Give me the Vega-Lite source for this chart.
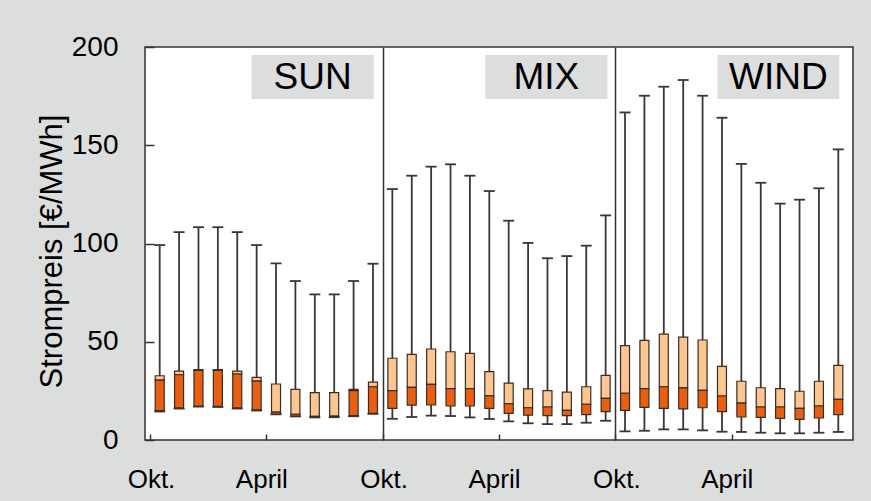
{
  "$schema": "https://vega.github.io/schema/vega-lite/v6.json",
  "autosize": "none",
  "width": 708,
  "height": 393,
  "padding": {"left": 145, "top": 47, "right": 18, "bottom": 61},
  "background": "#dcdddd",
  "config": {
    "view": {"fill": "white", "stroke": "#333333", "strokeWidth": 1.5},
    "font": "Liberation Sans",
    "axis": {"domain": false, "labelColor": "black", "titleColor": "black", "titleFontWeight": "normal", "tickColor": "#333333", "tickWidth": 1.5}
  },
  "data": {
    "values": [
      {"s": "SUN", "m": "Okt", "i": 0, "min": 14.5, "q1": 14.9, "med": 30.5, "q3": 32.7, "max": 99.2},
      {"s": "SUN", "m": "Nov", "i": 1, "min": 16.0, "q1": 16.4, "med": 33.2, "q3": 35.1, "max": 105.8},
      {"s": "SUN", "m": "Dez", "i": 2, "min": 17.0, "q1": 17.3, "med": 35.4, "q3": 35.8, "max": 108.3},
      {"s": "SUN", "m": "Jan", "i": 3, "min": 16.8, "q1": 17.1, "med": 35.4, "q3": 35.8, "max": 108.3},
      {"s": "SUN", "m": "Feb", "i": 4, "min": 16.0, "q1": 16.4, "med": 33.6, "q3": 35.1, "max": 105.8},
      {"s": "SUN", "m": "Mär", "i": 5, "min": 15.0, "q1": 15.3, "med": 30.0, "q3": 31.9, "max": 99.2},
      {"s": "SUN", "m": "Apr", "i": 6, "min": 13.0, "q1": 13.2, "med": 14.2, "q3": 28.5, "max": 89.9},
      {"s": "SUN", "m": "Mai", "i": 7, "min": 12.0, "q1": 12.2, "med": 13.1, "q3": 25.8, "max": 80.9},
      {"s": "SUN", "m": "Jun", "i": 8, "min": 11.5, "q1": 11.7, "med": 12.0, "q3": 24.1, "max": 74.1},
      {"s": "SUN", "m": "Jul", "i": 9, "min": 11.6, "q1": 11.9, "med": 12.1, "q3": 24.1, "max": 74.1},
      {"s": "SUN", "m": "Aug", "i": 10, "min": 12.1, "q1": 12.4, "med": 25.1, "q3": 25.8, "max": 80.9},
      {"s": "SUN", "m": "Sep", "i": 11, "min": 13.3, "q1": 13.6, "med": 27.1, "q3": 29.5, "max": 89.7},
      {"s": "MIX", "m": "Okt", "i": 12, "min": 10.8, "q1": 16.1, "med": 25.1, "q3": 41.6, "max": 127.7},
      {"s": "MIX", "m": "Nov", "i": 13, "min": 11.7, "q1": 17.7, "med": 26.8, "q3": 43.6, "max": 134.5},
      {"s": "MIX", "m": "Dez", "i": 14, "min": 12.4, "q1": 17.8, "med": 28.3, "q3": 46.3, "max": 139.1},
      {"s": "MIX", "m": "Jan", "i": 15, "min": 12.2, "q1": 17.3, "med": 26.1, "q3": 44.9, "max": 140.3},
      {"s": "MIX", "m": "Feb", "i": 16, "min": 11.5, "q1": 17.3, "med": 26.1, "q3": 44.1, "max": 134.5},
      {"s": "MIX", "m": "Mär", "i": 17, "min": 10.7, "q1": 16.1, "med": 22.5, "q3": 34.8, "max": 126.7},
      {"s": "MIX", "m": "Apr", "i": 18, "min": 9.5, "q1": 13.6, "med": 18.5, "q3": 28.9, "max": 111.6},
      {"s": "MIX", "m": "Mai", "i": 19, "min": 8.5, "q1": 12.7, "med": 16.4, "q3": 26.0, "max": 100.3},
      {"s": "MIX", "m": "Jun", "i": 20, "min": 8.1, "q1": 12.4, "med": 16.8, "q3": 25.1, "max": 92.5},
      {"s": "MIX", "m": "Jul", "i": 21, "min": 8.1, "q1": 12.4, "med": 15.1, "q3": 24.4, "max": 93.6},
      {"s": "MIX", "m": "Aug", "i": 22, "min": 8.8, "q1": 12.9, "med": 18.2, "q3": 27.1, "max": 98.9},
      {"s": "MIX", "m": "Sep", "i": 23, "min": 9.8, "q1": 14.4, "med": 21.2, "q3": 32.9, "max": 114.3},
      {"s": "WIND", "m": "Okt", "i": 24, "min": 4.4, "q1": 15.1, "med": 23.8, "q3": 48.0, "max": 166.7},
      {"s": "WIND", "m": "Nov", "i": 25, "min": 4.7, "q1": 16.6, "med": 26.1, "q3": 50.7, "max": 175.2},
      {"s": "WIND", "m": "Dez", "i": 26, "min": 5.4, "q1": 16.1, "med": 27.1, "q3": 53.9, "max": 179.8},
      {"s": "WIND", "m": "Jan", "i": 27, "min": 5.4, "q1": 15.8, "med": 26.5, "q3": 52.4, "max": 183.2},
      {"s": "WIND", "m": "Feb", "i": 28, "min": 4.9, "q1": 16.4, "med": 25.3, "q3": 50.9, "max": 175.2},
      {"s": "WIND", "m": "Mär", "i": 29, "min": 4.2, "q1": 14.4, "med": 22.4, "q3": 37.5, "max": 164.0},
      {"s": "WIND", "m": "Apr", "i": 30, "min": 4.1, "q1": 11.7, "med": 18.8, "q3": 29.9, "max": 140.5},
      {"s": "WIND", "m": "Mai", "i": 31, "min": 3.7, "q1": 11.5, "med": 16.8, "q3": 26.6, "max": 130.9},
      {"s": "WIND", "m": "Jun", "i": 32, "min": 3.4, "q1": 11.0, "med": 16.8, "q3": 26.1, "max": 120.3},
      {"s": "WIND", "m": "Jul", "i": 33, "min": 3.4, "q1": 10.5, "med": 16.1, "q3": 24.8, "max": 122.3},
      {"s": "WIND", "m": "Aug", "i": 34, "min": 3.7, "q1": 11.2, "med": 17.3, "q3": 29.9, "max": 128.1},
      {"s": "WIND", "m": "Sep", "i": 35, "min": 4.1, "q1": 12.9, "med": 20.7, "q3": 38.0, "max": 147.9}
    ]
  },
  "layer": [
    {
      "mark": {"type": "rule", "color": "#3d3535", "strokeWidth": 1.8},
      "encoding": {
        "x": {
          "field": "i", "type": "quantitative",
          "scale": {"domain": [-0.5, 35.5], "nice": false, "zero": false},
          "axis": {
            "title": null,
            "values": [-0.5, 5.5, 11.5, 17.5, 23.5, 29.5],
            "labelExpr": "(datum.value == 5.5 || datum.value == 17.5 || datum.value == 29.5) ? 'April' : 'Okt.'",
            "labelFontSize": 26,
            "labelFlush": false,
            "labelOverlap": false,
            "labelOffset": {"condition": {"test": "datum.value == 5.5 || datum.value == 17.5 || datum.value == 29.5", "value": -5}, "value": 1},
            "tickSize": -6,
            "labelPadding": 32,
            "grid": true,
            "gridColor": "#333333",
            "gridWidth": 1.5,
            "gridOpacity": {"condition": {"test": "datum.value == 11.5 || datum.value == 23.5", "value": 1}, "value": 0}
          }
        },
        "y": {"field": "min", "type": "quantitative", "scale": {"domain": [0, 200], "nice": false},
          "axis": {"title": "Strompreis [€/MWh]", "values": [0, 50, 100, 150, 200], "labelFontSize": 28, "titleFontSize": 31, "tickSize": -9, "labelPadding": 36, "titlePadding": 3, "titleY": 204, "grid": false}},
        "y2": {"field": "max"}
      }
    },
    {
      "mark": {"type": "tick", "orient": "horizontal", "color": "#3d3535", "size": 11, "thickness": 1.8, "opacity": 1},
      "encoding": {"x": {"field": "i", "type": "quantitative"}, "y": {"field": "max", "type": "quantitative"}}
    },
    {
      "mark": {"type": "tick", "orient": "horizontal", "color": "#3d3535", "size": 11, "thickness": 1.8, "opacity": 1},
      "encoding": {"x": {"field": "i", "type": "quantitative"}, "y": {"field": "min", "type": "quantitative"}}
    },
    {
      "mark": {"type": "bar", "width": 9, "fill": "#fcc690", "stroke": "#3a2c24", "strokeWidth": 1.2},
      "encoding": {"x": {"field": "i", "type": "quantitative"}, "y": {"field": "med", "type": "quantitative"}, "y2": {"field": "q3"}}
    },
    {
      "mark": {"type": "bar", "width": 9, "fill": "#e8600f", "stroke": "#3a2c24", "strokeWidth": 1.2},
      "encoding": {"x": {"field": "i", "type": "quantitative"}, "y": {"field": "q1", "type": "quantitative"}, "y2": {"field": "med"}}
    },
    {
      "data": {"values": [{"label": "SUN"}]},
      "mark": {"type": "rect", "fill": "#dcdddd"},
      "encoding": {"x": {"datum": 4.74, "type": "quantitative"}, "x2": {"datum": 11.04}, "y": {"datum": 195.9, "type": "quantitative"}, "y2": {"datum": 173.5}}
    },
    {
      "data": {"values": [{"label": "SUN"}]},
      "mark": {"type": "text", "fontSize": 37, "color": "black", "baseline": "middle", "align": "center"},
      "encoding": {"x": {"datum": 7.89, "type": "quantitative"}, "y": {"datum": 184.0, "type": "quantitative"}, "text": {"field": "label"}}
    },
    {
      "data": {"values": [{"label": "MIX"}]},
      "mark": {"type": "rect", "fill": "#dcdddd"},
      "encoding": {"x": {"datum": 16.79, "type": "quantitative"}, "x2": {"datum": 23.09}, "y": {"datum": 195.9, "type": "quantitative"}, "y2": {"datum": 173.5}}
    },
    {
      "data": {"values": [{"label": "MIX"}]},
      "mark": {"type": "text", "fontSize": 37, "color": "black", "baseline": "middle", "align": "center"},
      "encoding": {"x": {"datum": 19.94, "type": "quantitative"}, "y": {"datum": 184.0, "type": "quantitative"}, "text": {"field": "label"}}
    },
    {
      "data": {"values": [{"label": "WIND"}]},
      "mark": {"type": "rect", "fill": "#dcdddd"},
      "encoding": {"x": {"datum": 28.77, "type": "quantitative"}, "x2": {"datum": 35.05}, "y": {"datum": 195.9, "type": "quantitative"}, "y2": {"datum": 173.5}}
    },
    {
      "data": {"values": [{"label": "WIND"}]},
      "mark": {"type": "text", "fontSize": 37, "color": "black", "baseline": "middle", "align": "center"},
      "encoding": {"x": {"datum": 31.91, "type": "quantitative"}, "y": {"datum": 184.0, "type": "quantitative"}, "text": {"field": "label"}}
    }
  ]
}
